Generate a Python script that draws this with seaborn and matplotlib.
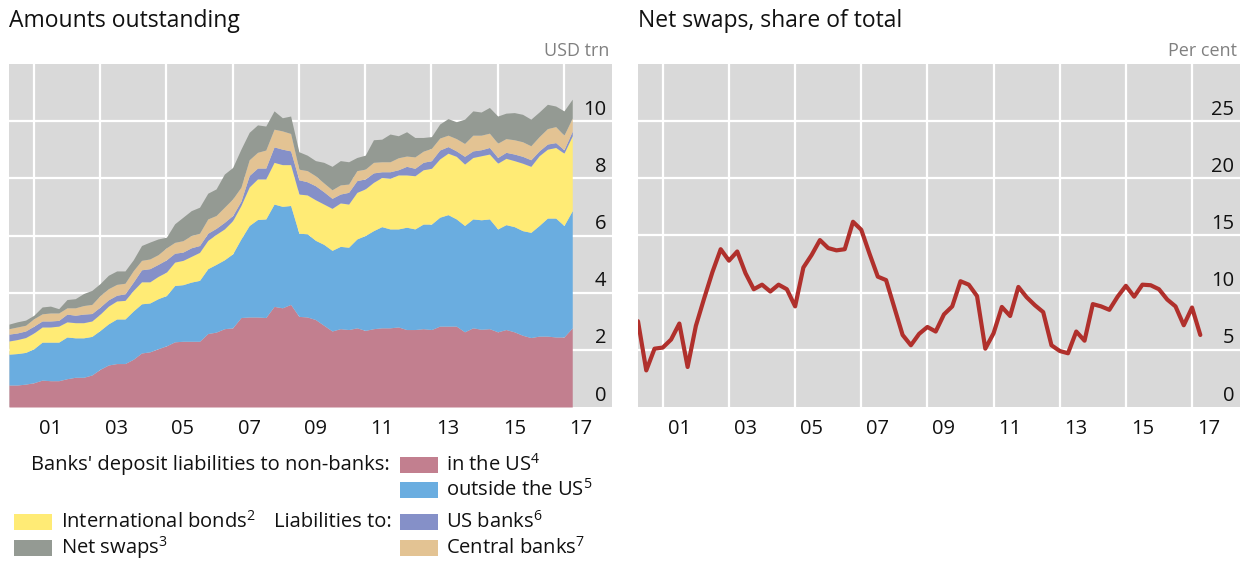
import numpy as np
import pandas as pd
import matplotlib
matplotlib.use("Agg")
import matplotlib.pyplot as plt
import seaborn as sns
from matplotlib.patches import Rectangle

# quarterly observations, 2000Q1 - 2017Q1 (plotted at quarter end)
quarters = pd.period_range("2000Q1", "2017Q1", freq="Q")
xq = np.asarray(quarters.year + quarters.quarter / 4.0, dtype=float)

# USD trn, stacked bottom to top
us_deposits = [
    0.77, 0.77, 0.80, 0.85, 0.94, 0.92, 0.92, 0.99, 1.04, 1.04, 1.12, 1.32, 1.47, 1.52, 1.52,
    1.67, 1.89, 1.93, 2.04, 2.14, 2.28, 2.30, 2.30, 2.30, 2.57, 2.62, 2.74, 2.77, 3.13, 3.15,
    3.15, 3.13, 3.52, 3.47, 3.59, 3.17, 3.15, 3.06, 2.86, 2.66, 2.74, 2.71, 2.77, 2.68, 2.74,
    2.77, 2.77, 2.80, 2.71, 2.71, 2.74, 2.71, 2.83, 2.83, 2.83, 2.63, 2.77, 2.72, 2.74, 2.63,
    2.71, 2.63, 2.51, 2.43, 2.48, 2.48, 2.45, 2.45, 2.77,
]
non_us_deposits = [
    1.08, 1.10, 1.11, 1.19, 1.33, 1.35, 1.35, 1.46, 1.38, 1.38, 1.35, 1.36, 1.44, 1.56, 1.56,
    1.69, 1.72, 1.71, 1.75, 1.76, 1.97, 1.98, 2.07, 2.13, 2.27, 2.37, 2.41, 2.59, 2.75, 3.20,
    3.41, 3.45, 3.58, 3.55, 3.46, 2.91, 2.91, 2.77, 2.83, 2.82, 2.88, 2.88, 3.11, 3.32, 3.43,
    3.54, 3.46, 3.43, 3.58, 3.52, 3.66, 3.69, 3.81, 3.90, 3.75, 3.72, 3.81, 3.83, 3.84, 3.60,
    3.67, 3.68, 3.66, 3.68, 3.87, 4.13, 4.16, 3.90, 4.10,
]
intl_bonds = [
    0.46, 0.49, 0.52, 0.55, 0.53, 0.53, 0.56, 0.53, 0.53, 0.53, 0.54, 0.57, 0.62, 0.63, 0.65,
    0.72, 0.77, 0.74, 0.78, 0.82, 0.82, 0.85, 0.90, 0.98, 0.99, 1.05, 1.08, 1.16, 1.17, 1.35,
    1.42, 1.40, 1.46, 1.46, 1.43, 1.37, 1.36, 1.42, 1.41, 1.47, 1.52, 1.51, 1.63, 1.63, 1.69,
    1.72, 1.77, 1.89, 1.83, 1.86, 1.90, 1.95, 2.04, 2.15, 2.19, 2.15, 2.15, 2.24, 2.27, 2.30,
    2.32, 2.31, 2.36, 2.31, 2.44, 2.41, 2.47, 2.53, 2.62,
]
us_banks = [
    0.24, 0.23, 0.23, 0.24, 0.21, 0.21, 0.20, 0.27, 0.26, 0.30, 0.26, 0.25, 0.22, 0.20, 0.23,
    0.29, 0.42, 0.46, 0.42, 0.43, 0.31, 0.29, 0.30, 0.24, 0.25, 0.21, 0.23, 0.18, 0.15, 0.40,
    0.38, 0.38, 0.54, 0.54, 0.48, 0.50, 0.46, 0.49, 0.43, 0.35, 0.31, 0.41, 0.41, 0.35, 0.33,
    0.20, 0.23, 0.18, 0.30, 0.26, 0.26, 0.27, 0.31, 0.23, 0.19, 0.27, 0.23, 0.21, 0.23, 0.20,
    0.21, 0.23, 0.24, 0.23, 0.17, 0.18, 0.17, 0.12, 0.16,
]
central_banks = [
    0.19, 0.21, 0.20, 0.26, 0.25, 0.28, 0.26, 0.22, 0.26, 0.30, 0.32, 0.40, 0.39, 0.38, 0.37,
    0.40, 0.33, 0.34, 0.34, 0.42, 0.38, 0.40, 0.43, 0.43, 0.50, 0.45, 0.53, 0.58, 0.49, 0.55,
    0.55, 0.63, 0.62, 0.64, 0.61, 0.37, 0.39, 0.35, 0.31, 0.30, 0.32, 0.29, 0.35, 0.34, 0.37,
    0.35, 0.35, 0.42, 0.36, 0.40, 0.39, 0.43, 0.42, 0.40, 0.43, 0.45, 0.55, 0.51, 0.50, 0.50,
    0.48, 0.50, 0.51, 0.49, 0.50, 0.54, 0.56, 0.51, 0.46,
]
net_swaps = [
    0.16, 0.18, 0.18, 0.12, 0.24, 0.24, 0.15, 0.29, 0.32, 0.42, 0.49, 0.42, 0.47, 0.47, 0.43,
    0.38, 0.52, 0.59, 0.55, 0.37, 0.65, 0.82, 0.87, 0.91, 0.90, 0.93, 1.16, 1.10, 1.33, 0.96,
    0.96, 0.84, 0.64, 0.46, 0.61, 0.61, 0.54, 0.53, 0.72, 0.82, 0.85, 0.78, 0.46, 0.49, 0.79,
    0.79, 0.97, 0.77, 0.85, 0.68, 0.48, 0.41, 0.49, 0.58, 0.59, 0.85, 0.85, 0.81, 0.90, 0.95,
    0.89, 0.95, 0.96, 0.93, 0.86, 0.85, 0.72, 0.85, 0.66,
]

# per cent
net_swaps_share = [
    7.5, 3.2, 5.1, 5.2, 5.9, 7.3, 3.5, 7.1, 9.5, 11.8, 13.8, 12.8, 13.6, 11.7, 10.3, 10.7,
    10.1, 10.7, 10.3, 8.8, 12.2, 13.3, 14.6, 13.9, 13.7, 13.8, 16.2, 15.5, 13.4, 11.4, 11.1,
    8.7, 6.3, 5.4, 6.4, 7.0, 6.6, 8.1, 8.8, 11.0, 10.7, 9.7, 5.1, 6.45, 8.75, 7.96, 10.5,
    9.6, 8.9, 8.3, 5.4, 4.9, 4.7, 6.6, 5.8, 9.0, 8.8, 8.5, 9.65, 10.6, 9.65, 10.7, 10.65,
    10.3, 9.4, 8.8, 7.15, 8.7, 6.3,
]

year_marks = list(range(2001, 2018))
grid_years = list(range(2001, 2018, 2))
year_labels = ["01", "03", "05", "07", "09", "11", "13", "15", "17"]
usd_ticks = [0, 2, 4, 6, 8, 10]
pct_ticks = [0, 5, 10, 15, 20, 25]

c_us = "#c27f8f"
c_nonus = "#6aade0"
c_bonds = "#ffeb75"
c_usbanks = "#8590c8"
c_cb = "#e3c393"
c_swaps = "#949a93"
c_line = "#b0302c"
bg = "#d9d9d9"

sns.set_style("white")
plt.rcParams["font.family"] = ["Open Sans", "DejaVu Sans"]
plt.rcParams["mathtext.fontset"] = "custom"
plt.rcParams["mathtext.rm"] = "Open Sans"

W, H = 1252, 563
fig = plt.figure(figsize=(W / 100, H / 100), dpi=100)
ax1 = fig.add_axes([9 / W, 1 - 407 / H, 603 / W, 343 / H])
ax2 = fig.add_axes([638 / W, 1 - 407 / H, 602 / W, 343 / H])


def style_panel(ax, yticks, ymax, unit):
    ax.set_facecolor(bg)
    ax.set_xlim(2000.25, 2018.45)
    ax.set_ylim(0, ymax)
    for y in yticks[1:]:
        ax.axhline(y, color="white", lw=1.6, zorder=0.5)
    for yr in grid_years:
        ax.axvline(yr, color="white", lw=1.6, zorder=0.5)
    ax.grid(False)
    ax.set_xticks([yr + 0.5 for yr in grid_years], labels=year_labels)
    ax.set_xticks(year_marks, minor=True)
    ax.tick_params(axis="x", which="major", length=3, color="#c8c8c8", pad=6,
                   labelsize=14.5, labelcolor="#111111")
    ax.tick_params(axis="x", which="minor", direction="in", length=10, width=1.2,
                   color="black")
    ax.set_yticks([])
    for y in yticks:
        ax.annotate(str(y), xy=(1, y), xycoords=("axes fraction", "data"),
                    xytext=(-4, 1), textcoords="offset points",
                    ha="right", va="bottom", fontsize=14.5, color="#111111")
    for s in ax.spines.values():
        s.set_visible(False)
    ax.annotate(unit, xy=(1, 1), xycoords="axes fraction", xytext=(-2, 3),
                textcoords="offset points", ha="right", va="bottom",
                fontsize=13, color="#808080")


# left panel: stacked amounts
ax1.stackplot(xq, us_deposits, non_us_deposits, intl_bonds, us_banks,
              central_banks, net_swaps,
              colors=[c_us, c_nonus, c_bonds, c_usbanks, c_cb, c_swaps],
              lw=0, zorder=1)
style_panel(ax1, usd_ticks, 12, "USD trn")

# right panel: share line
sns.lineplot(x=xq, y=net_swaps_share, ax=ax2, color=c_line, lw=3, zorder=2)
style_panel(ax2, pct_ticks, 30, "Per cent")
ax2.set_xlabel("")
ax2.set_ylabel("")

fig.text(9 / W, 1 - 27 / H, "Amounts outstanding", fontsize=16.5, va="baseline",
         color="#111111")
fig.text(638 / W, 1 - 27 / H, "Net swaps, share of total", fontsize=16.5,
         va="baseline", color="#111111")


# legend
def patch(x0, y0, color):
    fig.add_artist(Rectangle((x0 / W, 1 - (y0 + 16) / H), 38 / W, 16 / H,
                             transform=fig.transFigure, color=color, lw=0))


def label(x0, y0, s, ha="left"):
    fig.text(x0 / W, 1 - y0 / H, s, fontsize=14.5, ha=ha, va="center",
             color="#111111")


label(390, 465, "Banks' deposit liabilities to non-banks:", ha="right")
patch(400, 457, c_us)
label(446, 465, r"in the US$^{4}$")
patch(400, 482, c_nonus)
label(446, 490, r"outside the US$^{5}$")
patch(14, 514, c_bonds)
label(61, 522, r"International bonds$^{2}$")
label(392, 522, "Liabilities to:", ha="right")
patch(400, 514, c_usbanks)
label(446, 522, r"US banks$^{6}$")
patch(14, 540, c_swaps)
label(61, 548, r"Net swaps$^{3}$")
patch(400, 540, c_cb)
label(446, 548, r"Central banks$^{7}$")

fig.savefig("out.png", dpi=100)
